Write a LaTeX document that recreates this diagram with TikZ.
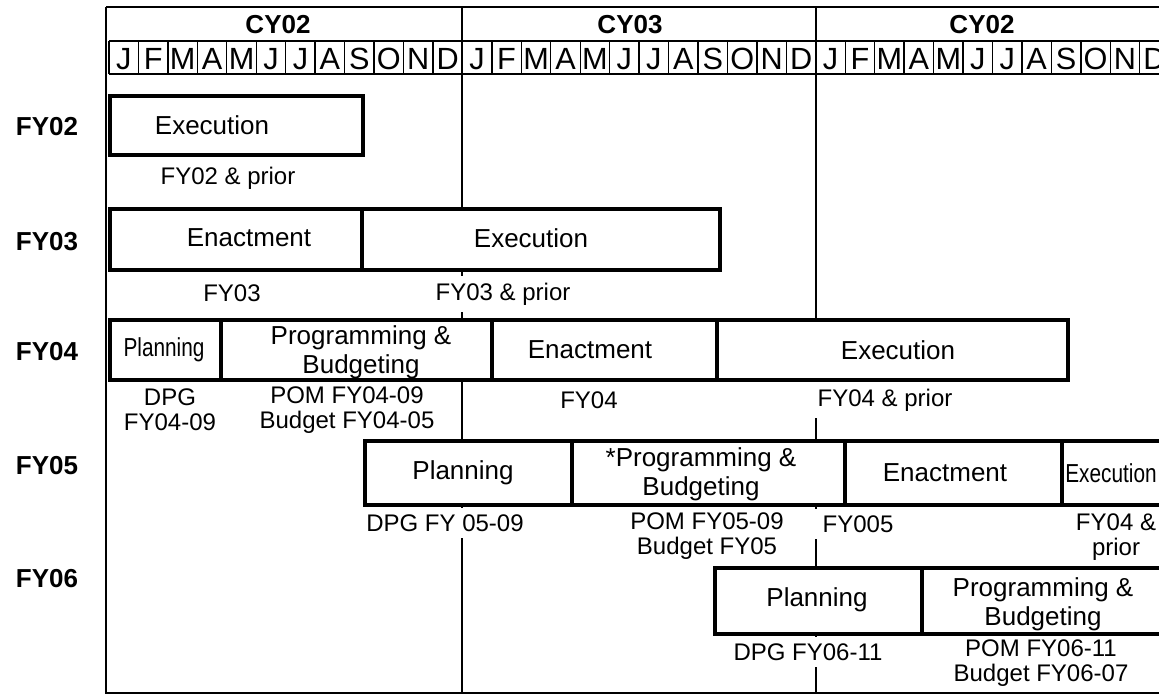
\documentclass[tikz,border=0pt]{standalone}
\usepackage{fontspec}
\setmainfont{Liberation Sans}
\begin{document}
\begin{tikzpicture}[x=0.75pt,y=-0.75pt,
    gridline/.style={line width=1.4pt},
    monthline/.style={line width=1pt},
    phasebox/.style={line width=3.6pt,fill=white},
    phasediv/.style={line width=3.6pt},
    yearlab/.style={font=\fontsize{19.5}{22}\selectfont\bfseries,inner sep=0pt},
    monthlab/.style={font=\fontsize{23}{24}\selectfont,inner sep=0pt},
    phaselab/.style={font=\fontsize{19.5}{21.5}\selectfont,align=center,inner sep=0pt},
    narrowlab/.style={font=\fontsize{19.5}{21.5}\selectfont\addfontfeature{FakeStretch=0.8}},
    notelab/.style={font=\fontsize{18}{19}\selectfont,align=center,inner sep=0pt},
    blank/.style={fill=white,inner xsep=4pt,inner ysep=5pt}]
  \useasboundingbox (0,0) rectangle (1159,694);

  % calendar frame
  \draw[gridline] (106,7) -- (1200,7);
  \draw[gridline] (106,7) -- (106,693) -- (1200,693);
  \draw[gridline] (109,41) -- (1200,41);
  \draw[gridline] (109,74) -- (1200,74);
  \draw[gridline] (462,7) -- (462,693);
  \draw[gridline] (816,7) -- (816,693);

  \node[yearlab] (cy1) at (278,25) {CY02};
  \node[yearlab] (cy2) at (630,25) {CY03};
  \node[yearlab] (cy3) at (982,25) {CY02};

  \foreach \y in {0,1,2}
    \foreach \m [count=\i from 0] in {J,F,M,A,M,J,J,A,S,O,N,D} {
      \draw[monthline] ({109+(12*\y+\i)*29.45},41) -- ++(0,33);
      \node[monthlab] (m\y-\i) at ({109+(12*\y+\i+0.5)*29.45},59) {\m};
    }

  % fiscal years
  \node[yearlab] (fy02) at (47,127) {FY02};
  \node[yearlab] (fy03) at (47,242) {FY03};
  \node[yearlab] (fy04) at (47,352) {FY04};
  \node[yearlab] (fy05) at (47,466) {FY05};
  \node[yearlab] (fy06) at (47,579) {FY06};

  % FY02
  \draw[phasebox] (110,96) rectangle (363,155);
  \node[phaselab] (ex02) at (212,125) {Execution};
  \node[notelab] (pr02) at (228,178) {FY02 \& prior};

  % FY03
  \draw[phasebox] (110,209) rectangle (720,270);
  \draw[phasediv] (362,209) -- (362,270);
  \node[phaselab] (en03) at (249,238) {Enactment};
  \node[phaselab] (ex03) at (531,238) {Execution};
  \node[notelab] (fy03n) at (232,293) {FY03};
  \node[notelab,blank] (pr03) at (503,294) {FY03 \& prior};

  % FY04
  \draw[phasebox] (110,320) rectangle (1068,380);
  \draw[phasediv] (221,320) -- (221,380);
  \draw[phasediv] (492,320) -- (492,380);
  \draw[phasediv] (717,320) -- (717,380);
  \node[phaselab,narrowlab] (pl04) at (164,350) {Planning};
  \node[phaselab] (pb04) at (361,352) {Programming \&\\Budgeting};
  \node[phaselab] (en04) at (590,350) {Enactment};
  \node[phaselab] (ex04) at (898,350) {Execution};
  \node[notelab] (dpg04) at (170,410) {DPG\\FY04-09};
  \node[notelab] (pom04) at (347,410) {POM FY04-09\\Budget FY04-05};
  \node[notelab] (fy04n) at (589,400) {FY04};
  \node[notelab,blank] (pr04) at (885,400) {FY04 \& prior};

  % FY05
  \draw[phasebox] (365,441) rectangle (1200,505);
  \draw[phasediv] (572,441) -- (572,505);
  \draw[phasediv] (845,441) -- (845,505);
  \draw[phasediv] (1062,441) -- (1062,505);
  \node[phaselab] (pl05) at (463,473) {Planning};
  \node[phaselab] (pb05) at (701,474) {*Programming \&\\Budgeting};
  \node[phaselab] (en05) at (945,473) {Enactment};
  \node[phaselab,narrowlab] (ex05) at (1111,473) {Execution};
  \node[notelab,blank] (dpg05) at (445,523) {DPG FY 05-09};
  \node[notelab] (pom05) at (707,536) {POM FY05-09\\Budget FY05};
  \node[notelab,blank,inner xsep=7pt] (fy05n) at (858,524) {FY005};
  \node[notelab] (pr05) at (1116,537) {FY04 \&\\prior};

  % FY06
  \draw[phasebox] (715,568) rectangle (1200,634);
  \draw[phasediv] (922,568) -- (922,634);
  \node[phaselab] (pl06) at (817,600) {Planning};
  \node[phaselab] (pb06) at (1043,604) {Programming \&\\Budgeting};
  \node[notelab,blank] (dpg06) at (808,652) {DPG FY06-11};
  \node[notelab] (pom06) at (1041,663) {POM FY06-11\\Budget FY06-07};
\end{tikzpicture}
\end{document}
